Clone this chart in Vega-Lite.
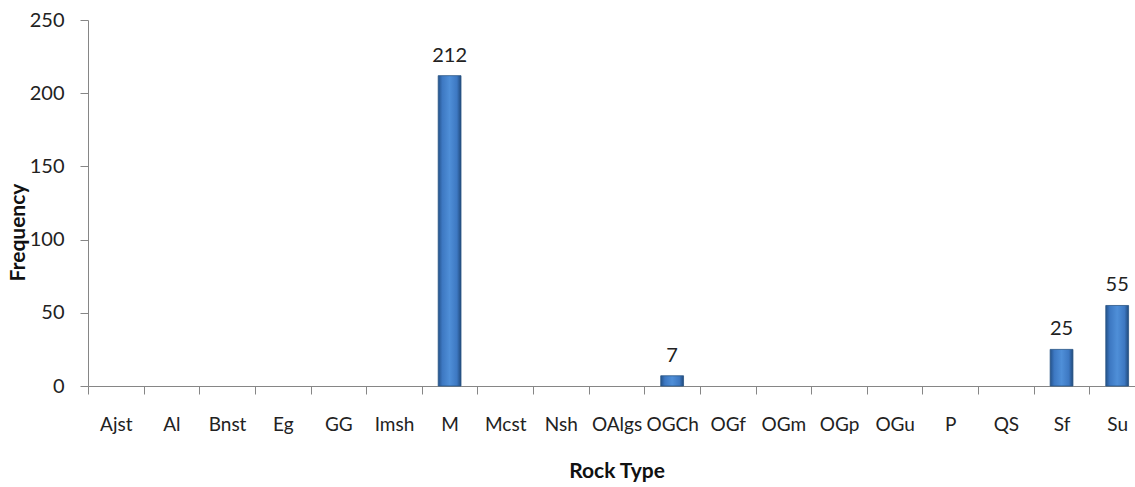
{
  "$schema": "https://vega.github.io/schema/vega-lite/v6.json",
  "autosize": "none",
  "padding": {"left": 88, "top": 20, "right": 0, "bottom": 101},
  "width": 1057,
  "height": 366,
  "background": "white",
  "config": {
    "view": {"stroke": null},
    "font": "Lato",
    "axis": {"grid": false, "domainColor": "#868686", "tickColor": "#868686", "labelColor": "#222222", "titleColor": "#111111", "labelFont": "Lato", "titleFont": "Lato"}
  },
  "data": {
    "values": [
      {"rock": "Ajst", "freq": 0},
      {"rock": "Al", "freq": 0},
      {"rock": "Bnst", "freq": 0},
      {"rock": "Eg", "freq": 0},
      {"rock": "GG", "freq": 0},
      {"rock": "Imsh", "freq": 0},
      {"rock": "M", "freq": 212},
      {"rock": "Mcst", "freq": 0},
      {"rock": "Nsh", "freq": 0},
      {"rock": "OAlgs", "freq": 0},
      {"rock": "OGCh", "freq": 7},
      {"rock": "OGf", "freq": 0},
      {"rock": "OGm", "freq": 0},
      {"rock": "OGp", "freq": 0},
      {"rock": "OGu", "freq": 0},
      {"rock": "P", "freq": 0},
      {"rock": "QS", "freq": 0},
      {"rock": "Sf", "freq": 25},
      {"rock": "Su", "freq": 55}
    ]
  },
  "transform": [{"filter": "datum.freq > 0"}],
  "encoding": {
    "x": {
      "field": "rock",
      "type": "nominal",
      "sort": null,
      "scale": {
        "domain": ["Ajst", "Al", "Bnst", "Eg", "GG", "Imsh", "M", "Mcst", "Nsh", "OAlgs", "OGCh", "OGf", "OGm", "OGp", "OGu", "P", "QS", "Sf", "Su"],
        "paddingInner": 0,
        "paddingOuter": 0
      },
      "axis": {
        "title": "Rock Type",
        "titleFontSize": 21,
        "titleFontWeight": "bold",
        "titlePadding": 26,
        "labelAngle": 0,
        "labelFontSize": 19,
        "labelPadding": 21,
        "tickBand": "extent",
        "tickSize": 8,
        "labelBound": false,
        "labelOverlap": false
      }
    },
    "y": {
      "field": "freq",
      "type": "quantitative",
      "scale": {"domain": [0, 250], "nice": false},
      "axis": {
        "title": "Frequency",
        "titleFontSize": 21,
        "titleFontWeight": "bold",
        "titleX": -60,
        "titleY": 212,
        "values": [0, 50, 100, 150, 200, 250],
        "labelFontSize": 20,
        "labelPadding": 16,
        "tickSize": 8
      }
    }
  },
  "layer": [
    {
      "mark": {
        "type": "bar",
        "width": {"band": 0.41},
        "stroke": "#2a5585",
        "strokeWidth": 0.8,
        "color": {
          "gradient": "linear",
          "x1": 0, "x2": 1, "y1": 0, "y2": 0,
          "stops": [
            {"offset": 0, "color": "#24528a"},
            {"offset": 0.18, "color": "#3d78c2"},
            {"offset": 0.5, "color": "#4f8fd8"},
            {"offset": 0.82, "color": "#3d78c2"},
            {"offset": 1, "color": "#214a7c"}
          ]
        }
      }
    },
    {
      "mark": {"type": "text", "baseline": "alphabetic", "dy": -14, "fontSize": 20, "color": "#222222", "font": "Lato"},
      "encoding": {"text": {"field": "freq", "type": "quantitative"}}
    }
  ]
}
